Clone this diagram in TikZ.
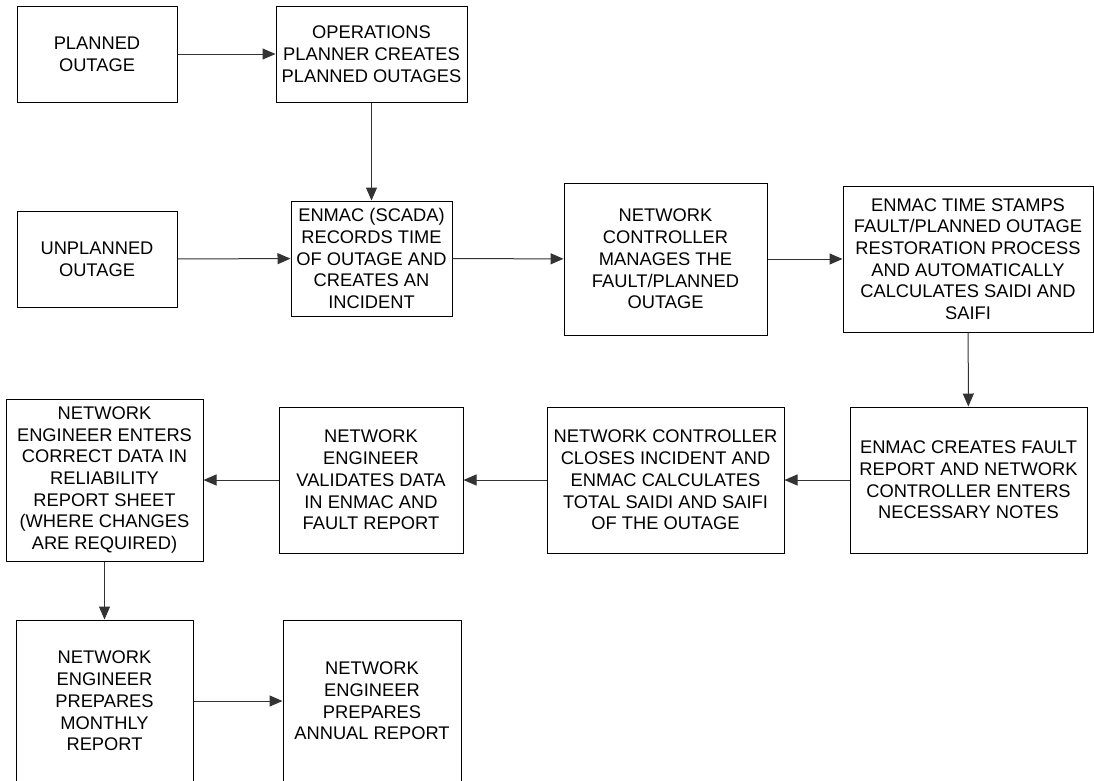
\documentclass[tikz,border=0pt]{standalone}
\usepackage{fontspec}
\setmainfont{Liberation Sans}
\usetikzlibrary{arrows.meta}
\begin{document}
\begin{tikzpicture}[x=1pt,y=1pt,
  box/.style={draw=black, line width=1pt, align=center, inner sep=0pt,
    font=\fontsize{18.3pt}{21.7pt}\selectfont},
  conn/.style={draw=black!80, line width=1pt, -{Triangle[length=13pt,width=11pt]}}]
\useasboundingbox (0,0) rectangle (1094,-780);
\fill[white] (0,0) rectangle (1094,-780);
\node[box, minimum width=160, minimum height=96] (planned) at (97,-54) {PLANNED\\OUTAGE};
\node[box, minimum width=191, minimum height=96] (ops) at (371.5,-54) {OPERATIONS\\PLANNER CREATES\\PLANNED OUTAGES};
\node[box, minimum width=160, minimum height=96] (unplanned) at (97,-259) {UNPLANNED\\OUTAGE};
\node[box, minimum width=161, minimum height=115] (enmac) at (371.5,-258.5) {ENMAC (SCADA)\\RECORDS TIME\\OF OUTAGE AND\\CREATES AN\\INCIDENT};
\node[box, minimum width=203, minimum height=152] (manages) at (665.5,-259) {NETWORK\\CONTROLLER\\MANAGES THE\\FAULT/PLANNED\\OUTAGE};
\node[box, minimum width=250, minimum height=146] (stamps) at (968,-259) {ENMAC TIME STAMPS\\FAULT/PLANNED OUTAGE\\RESTORATION PROCESS\\AND AUTOMATICALLY\\CALCULATES SAIDI AND\\SAIFI};
\node[box, minimum width=237, minimum height=146] (creates) at (968.5,-480) {ENMAC CREATES FAULT\\REPORT AND NETWORK\\CONTROLLER ENTERS\\NECESSARY NOTES};
\node[box, minimum width=237, minimum height=146] (closes) at (665.5,-480) {NETWORK CONTROLLER\\CLOSES INCIDENT AND\\ENMAC CALCULATES\\TOTAL SAIDI AND SAIFI\\OF THE OUTAGE};
\node[box, minimum width=184, minimum height=146] (validates) at (371,-480) {NETWORK\\ENGINEER\\VALIDATES DATA\\IN ENMAC AND\\FAULT REPORT};
\node[box, minimum width=197, minimum height=162] (enters) at (104.5,-480) {NETWORK\\ENGINEER ENTERS\\CORRECT DATA IN\\RELIABILITY\\REPORT SHEET\\(WHERE CHANGES\\ARE REQUIRED)};
\node[box, minimum width=177, minimum height=162] (monthly) at (104.5,-701) {NETWORK\\ENGINEER\\PREPARES\\MONTHLY\\REPORT};
\node[box, minimum width=178, minimum height=162] (annual) at (372,-701) {NETWORK\\ENGINEER\\PREPARES\\ANNUAL REPORT};
\draw[conn] (planned) -- (ops);
\draw[conn] (ops) -- (enmac);
\draw[conn] (unplanned) -- (enmac);
\draw[conn] (enmac) -- (manages);
\draw[conn] (manages) -- (stamps);
\draw[conn] (stamps) -- (creates);
\draw[conn] (creates) -- (closes);
\draw[conn] (closes) -- (validates);
\draw[conn] (validates) -- (enters);
\draw[conn] (enters) -- (monthly);
\draw[conn] (monthly) -- (annual);
\end{tikzpicture}
\end{document}
